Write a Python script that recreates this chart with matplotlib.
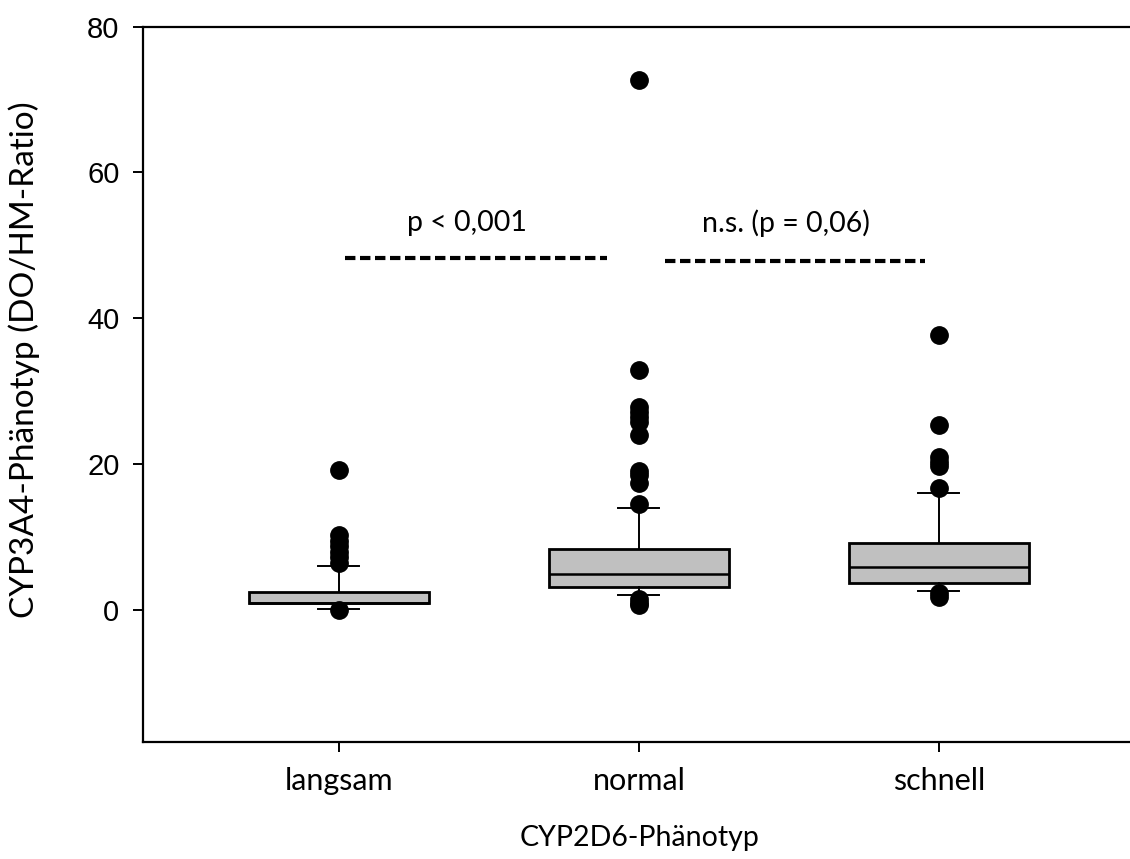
import numpy as np
import matplotlib
matplotlib.use("Agg")
import matplotlib.pyplot as plt

# Daten
gruppen = ["langsam", "normal", "schnell"]
median = [1.0, 4.9, 5.85]
q1 = [0.9, 3.2, 3.75]
q3 = [2.5, 8.3, 9.15]
whisker_lo = [0.15, 2.05, 2.65]
whisker_hi = [6.0, 14.0, 16.0]
ausreisser = [
    [19.2, 10.3, 9.5, 8.8, 8.0, 7.2, 6.5, 0.05],
    [72.6, 32.9, 27.8, 27.2, 26.5, 25.8, 24.0, 19.0, 18.5, 17.4, 14.5, 1.5, 1.0, 0.7],
    [37.7, 25.3, 21.0, 20.3, 19.7, 16.7, 2.3, 1.8],
]
yticks = [0, 20, 40, 60, 80]

# Signifikanz-Angaben
sig_text = ["p < 0,001", "n.s. (p = 0,06)"]
sig_text_x = [0.427, 1.49]
sig_text_y = 53.1
sig_linie_x = [(0.02, 0.893), (1.087, 1.953)]
sig_linie_y = [48.3, 47.8]

calibri_ersatz = "Lato"

fig = plt.figure(figsize=(11.3, 8.59), dpi=100)
ax = fig.add_axes([143 / 1130, 1 - 742 / 859, 1 - 143 / 1130, (742 - 26.5) / 859])

stats = []
for i in range(len(gruppen)):
    stats.append(dict(med=median[i], q1=q1[i], q3=q3[i],
                      whislo=whisker_lo[i], whishi=whisker_hi[i],
                      fliers=ausreisser[i], label=gruppen[i]))

pos = np.arange(len(gruppen))
ax.bxp(stats, positions=pos, widths=0.6, patch_artist=True,
       boxprops=dict(facecolor="#c0c0c0", edgecolor="black", linewidth=2.0),
       medianprops=dict(color="black", linewidth=1.8),
       whiskerprops=dict(color="black", linewidth=1.4),
       capprops=dict(color="black", linewidth=1.4), capwidths=0.137,
       flierprops=dict(marker="o", markerfacecolor="black", markeredgecolor="black",
                       markersize=12.5))

for (x0, x1), y in zip(sig_linie_x, sig_linie_y):
    ax.plot([x0, x1], [y, y], color="black", linewidth=3, linestyle=(0, (2.5, 1.1)))

for t, x in zip(sig_text, sig_text_x):
    ax.text(x, sig_text_y, t, ha="center", va="center", fontsize=20.5,
            family=calibri_ersatz)

ax.set_xlim(-0.653, 2.637)
ax.set_ylim(-18.1, 80)
ax.set_yticks(yticks)
ax.set_yticklabels([str(v) for v in yticks], family="Liberation Sans", fontsize=21)
ax.set_xticks(pos)
ax.set_xticklabels(gruppen, family=calibri_ersatz, fontsize=22)
ax.tick_params(axis="y", length=7, width=1.4, pad=10)
ax.tick_params(axis="x", length=7, width=1.4, pad=11)

for s in ["left", "bottom", "top"]:
    ax.spines[s].set_linewidth(1.6)
ax.spines["right"].set_visible(False)

fig.text(640 / 1130, 1 - 838 / 859, "CYP2D6-Phänotyp", ha="center", va="center",
         fontsize=20.5, family=calibri_ersatz)
fig.text(24 / 1130, 1 - 360 / 859, "CYP3A4-Phänotyp (DO/HM-Ratio)", ha="center",
         va="center", rotation=90, fontsize=24, family=calibri_ersatz)

fig.savefig("out.png", dpi=100)
